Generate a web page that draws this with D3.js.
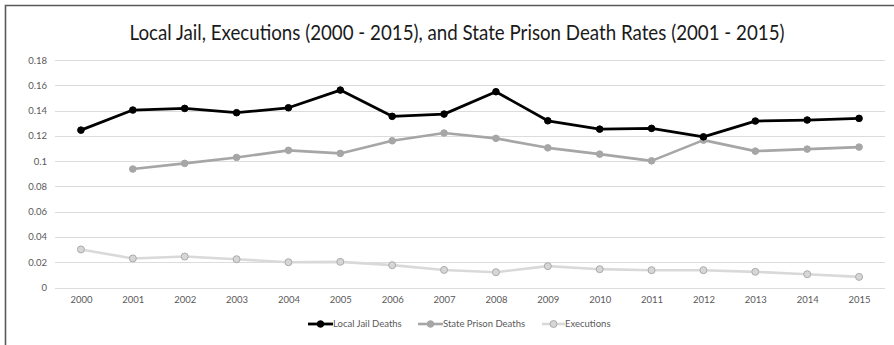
<!DOCTYPE html>
<html>
<head>
<meta charset="utf-8">
<script src="https://cdn.jsdelivr.net/npm/d3@7"></script>
<style>
  html, body { margin: 0; padding: 0; background: #fff; }
  svg { display: block; font-family: Lato, "Open Sans", sans-serif; }
</style>
</head>
<body>
<svg id="chart" width="894" height="345"></svg>
<script>
// Death rates by year
const years = [2000, 2001, 2002, 2003, 2004, 2005, 2006, 2007, 2008, 2009, 2010, 2011, 2012, 2013, 2014, 2015];
const localJailDeaths = [0.1245, 0.1404, 0.1417, 0.1383, 0.1422, 0.1562, 0.1354, 0.1372, 0.1549, 0.1319, 0.1253, 0.1259, 0.1192, 0.1317, 0.1325, 0.1338];
const statePrisonDeaths = [null, 0.0937, 0.0982, 0.1029, 0.1085, 0.1061, 0.1161, 0.1222, 0.1180, 0.1105, 0.1055, 0.1002, 0.1166, 0.1079, 0.1095, 0.1111];
const executions = [0.0301, 0.0230, 0.0245, 0.0224, 0.0200, 0.0203, 0.0177, 0.0139, 0.0121, 0.0169, 0.0145, 0.0137, 0.0137, 0.0124, 0.0105, 0.0084];
const yTicks = [0, 0.02, 0.04, 0.06, 0.08, 0.1, 0.12, 0.14, 0.16, 0.18];
const seriesNames = ["Local Jail Deaths", "State Prison Deaths", "Executions"];
const titleText = "Local Jail, Executions (2000 - 2015), and State Prison Death Rates (2001 - 2015)";

const svg = d3.select("#chart");
const plot = { left: 55, right: 885, top: 60, bottom: 287.5 };

// Chart frame (top and left edges visible)
svg.append("path")
  .attr("d", "M5.5,345 L5.5,5.5 L894,5.5")
  .attr("fill", "none").attr("stroke", "#5a5a5a").attr("stroke-width", 1.6);

svg.append("text")
  .attr("x", 457).attr("y", 40)
  .attr("text-anchor", "middle")
  .attr("font-size", 20.5).attr("fill", "#1a1a1a")
  .attr("textLength", 655).attr("lengthAdjust", "spacingAndGlyphs")
  .text(titleText);

const x = d3.scalePoint().domain(years).range([plot.left, plot.right]).padding(0.5);
const y = d3.scaleLinear().domain([0, 0.18]).range([plot.bottom, plot.top]);

// Horizontal gridlines
svg.append("g")
  .selectAll("line").data(yTicks).join("line")
  .attr("x1", plot.left).attr("x2", plot.right)
  .attr("y1", d => Math.round(y(d)) + 0.5).attr("y2", d => Math.round(y(d)) + 0.5)
  .attr("stroke", "#dcdcdc").attr("stroke-width", 1);

// Y axis labels
const yAxis = svg.append("g")
  .attr("transform", `translate(${plot.left - 8},0)`)
  .call(d3.axisLeft(y).tickValues(yTicks).tickSize(0).tickPadding(0)
    .tickFormat(d => d === 0 ? "0" : String(+d.toFixed(2))));
yAxis.select(".domain").remove();
yAxis.selectAll("text").attr("font-size", 9.5).attr("fill", "#595959")
  .attr("font-family", "Lato, sans-serif");

// X axis labels
const xAxis = svg.append("g")
  .attr("transform", `translate(0,${plot.bottom + 9})`)
  .call(d3.axisBottom(x).tickSize(0).tickPadding(0).tickFormat(d => String(d)));
xAxis.select(".domain").remove();
xAxis.selectAll("text").attr("font-size", 9.5).attr("fill", "#595959")
  .attr("font-family", "Lato, sans-serif");

const styles = [
  { values: localJailDeaths, stroke: "#000000", fill: "#000000", mstroke: "#000000", r: 3.3, width: 2.8 },
  { values: statePrisonDeaths, stroke: "#a6a6a6", fill: "#a6a6a6", mstroke: "#a6a6a6", r: 3.3, width: 2.6 },
  { values: executions, stroke: "#d9d9d9", fill: "#d6d6d6", mstroke: "#ababab", r: 3.5, width: 2.6 }
];

const line = d3.line()
  .defined(d => d.v != null)
  .x(d => x(d.year)).y(d => y(d.v));

// Draw in reverse so the darkest series sits on top
styles.slice().reverse().forEach(s => {
  const pts = years.map((yr, i) => ({ year: yr, v: s.values[i] }));
  const g = svg.append("g");
  g.append("path").datum(pts)
    .attr("d", line).attr("fill", "none")
    .attr("stroke", s.stroke).attr("stroke-width", s.width)
    .attr("stroke-linejoin", "round");
  g.selectAll("circle").data(pts.filter(d => d.v != null)).join("circle")
    .attr("cx", d => x(d.year)).attr("cy", d => y(d.v)).attr("r", s.r)
    .attr("fill", s.fill).attr("stroke", s.mstroke).attr("stroke-width", 1);
});

// Legend
const legendItems = [
  { x: 308, textX: 333 },
  { x: 418, textX: 443 },
  { x: 542, textX: 565 }
];
const legendY = 324;
const legend = svg.append("g");
legendItems.forEach((item, i) => {
  const s = styles[i];
  legend.append("line")
    .attr("x1", item.x).attr("x2", item.textX)
    .attr("y1", legendY).attr("y2", legendY)
    .attr("stroke", s.stroke).attr("stroke-width", s.width);
  legend.append("circle")
    .attr("cx", (item.x + item.textX) / 2).attr("cy", legendY).attr("r", s.r)
    .attr("fill", s.fill).attr("stroke", s.mstroke).attr("stroke-width", 1);
  legend.append("text")
    .attr("x", item.textX).attr("y", legendY).attr("dy", "0.35em")
    .attr("font-size", 9.5).attr("fill", "#595959")
    .text(seriesNames[i]);
});
</script>
</body>
</html>
